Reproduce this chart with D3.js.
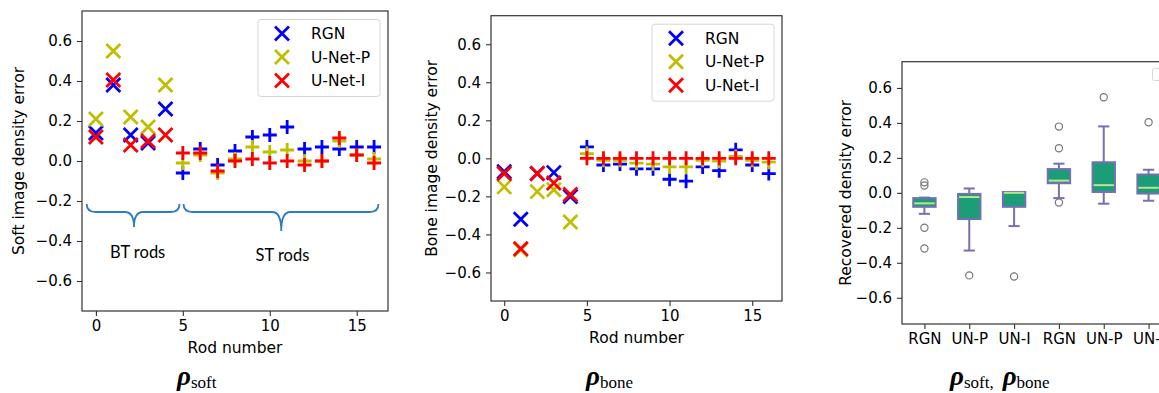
<!DOCTYPE html>
<html>
<head>
<meta charset="utf-8">
<script src="https://cdn.jsdelivr.net/npm/d3@7"></script>
<style>
  body { margin: 0; background: #fff; }
  svg { display: block; }
  .tick text { font-family: "DejaVu Sans", sans-serif; font-size: 15px; fill: #000; }
  .tick line { stroke: #333; stroke-width: 1.1; }
  .lbl { font-family: "DejaVu Sans", sans-serif; font-size: 15.5px; fill: #000; }
  .title { font-family: "Liberation Serif", "Times New Roman", serif; fill: #000; }
</style>
</head>
<body>
<svg width="1159" height="393"></svg>
<script>
var svg = d3.select("svg");

// ---- data ----
var rods = [0, 1, 2, 3, 4, 5, 6, 7, 8, 9, 10, 11, 12, 13, 14, 15, 16];
var rodShapes = ["x", "x", "x", "x", "x", "+", "+", "+", "+", "+", "+", "+", "+", "+", "+", "+", "+"];
var seriesNames = ["RGN", "U-Net-P", "U-Net-I"];
var seriesColors = ["#0000ff", "#bfbf00", "#ff0000"];

var softRGN = [0.14, 0.38, 0.13, 0.09, 0.26, -0.06, 0.06, -0.02, 0.05, 0.12, 0.13, 0.17, 0.06, 0.07, 0.06, 0.07, 0.07];
var softUNP = [0.21, 0.55, 0.22, 0.17, 0.38, -0.01, 0.03, -0.06, 0.01, 0.07, 0.045, 0.055, 0.0, 0.0, 0.10, 0.03, 0.01];
var softUNI = [0.12, 0.405, 0.08, 0.10, 0.13, 0.04, 0.04, -0.05, 0.0, 0.01, -0.01, 0.0, -0.02, 0.0, 0.115, 0.03, -0.01];

var boneRGN = [-0.07, -0.32, -0.08, -0.075, -0.20, 0.06, -0.035, -0.03, -0.055, -0.055, -0.11, -0.12, -0.045, -0.065, 0.045, -0.035, -0.08];
var boneUNP = [-0.15, -0.48, -0.175, -0.165, -0.335, 0.025, -0.01, -0.01, -0.025, -0.03, -0.045, -0.045, -0.01, -0.015, 0.01, -0.01, -0.02];
var boneUNI = [-0.08, -0.475, -0.08, -0.13, -0.19, 0.0, 0.0, 0.0, 0.0, 0.0, 0.0, 0.0, 0.0, 0.0, 0.0, 0.0, 0.0];

var yTicks = [-0.6, -0.4, -0.2, 0.0, 0.2, 0.4, 0.6];
var xTicks = [0, 5, 10, 15];

var braces = [
  {label: "BT rods", x0: -0.53, x1: 4.81, tip: 2.19, labelX: 2.4, top: -0.215, mid: -0.255, end: -0.33, labelY: -0.485},
  {label: "ST rods", x0: 5.04, x1: 16.25, tip: 10.66, labelX: 10.73, top: -0.215, mid: -0.255, end: -0.35, labelY: -0.5}
];

var boxLabels = ["RGN", "UN-P", "UN-I", "RGN", "UN-P", "UN-I"];
var boxLo = [-0.12, -0.33, -0.19, -0.03, -0.062, -0.045];
var boxQ1 = [-0.08, -0.15, -0.08, 0.055, 0.005, -0.004];
var boxMed = [-0.06, -0.024, 0.0, 0.07, 0.044, 0.029];
var boxQ3 = [-0.03, -0.006, 0.005, 0.136, 0.175, 0.105];
var boxHi = [-0.027, 0.025, 0.005, 0.167, 0.38, 0.132];
var boxOut = [[0.06, 0.042, -0.2, -0.318], [-0.472], [-0.478], [0.379, 0.255, -0.055], [0.547], [0.404]];

var fmt = d3.format(".1f");

function markerPath(shape, s) {
  if (shape === "x") return "M" + (-s) + "," + (-s) + "L" + s + "," + s + "M" + (-s) + "," + s + "L" + s + "," + (-s);
  return "M" + (-s) + ",0L" + s + ",0M0," + (-s) + "L0," + s;
}

function frame(g, x, y) {
  g.append("rect")
    .attr("x", x.range()[0]).attr("y", y.range()[1])
    .attr("width", x.range()[1] - x.range()[0])
    .attr("height", y.range()[0] - y.range()[1])
    .attr("fill", "none").attr("stroke", "#333").attr("stroke-width", 1.2);
}

function yAxis(g, x, y) {
  g.append("g")
    .attr("transform", "translate(" + x.range()[0] + ",0)")
    .call(d3.axisLeft(y).tickValues(yTicks).tickFormat(fmt).tickSize(5).tickPadding(5))
    .call(function(a) { a.select(".domain").remove(); });
}

function legend(g, x, y) {
  var w = 122, h = 77;
  var bx = x.range()[1] - 8 - w, by = y.range()[1] + 8.5;
  var lg = g.append("g").attr("transform", "translate(" + bx + "," + by + ")");
  lg.append("rect")
    .attr("width", w).attr("height", h).attr("rx", 3)
    .attr("fill", "#fff").attr("fill-opacity", 0.8)
    .attr("stroke", "#d6d6d6").attr("stroke-width", 1);
  seriesNames.forEach(function(name, i) {
    var cy = 14 + i * 23.5;
    lg.append("path")
      .attr("d", markerPath("x", 7))
      .attr("transform", "translate(24," + cy + ")")
      .attr("stroke", seriesColors[i]).attr("stroke-width", 2.8).attr("fill", "none");
    lg.append("text")
      .attr("class", "lbl")
      .attr("x", 53).attr("y", cy + 5.5)
      .style("font-size", "15.5px")
      .text(name);
  });
}

function scatterPanel(opts) {
  var g = svg.append("g");
  var x = d3.scaleLinear().domain([-0.8, 16.8]).range(opts.xr);
  var y = d3.scaleLinear().domain([-0.75, 0.75]).range(opts.yr);

  g.append("g")
    .attr("transform", "translate(0," + y.range()[0] + ")")
    .call(d3.axisBottom(x).tickValues(xTicks).tickSize(5).tickPadding(4))
    .call(function(a) { a.select(".domain").remove(); });
  yAxis(g, x, y);

  opts.series.forEach(function(vals, si) {
    g.append("g").selectAll("path")
      .data(rods)
      .enter().append("path")
        .attr("d", function(d) { return markerPath(rodShapes[d], 7); })
        .attr("transform", function(d) { return "translate(" + x(d) + "," + y(vals[d]) + ")"; })
        .attr("stroke", seriesColors[si])
        .attr("stroke-width", 2.8)
        .attr("fill", "none");
  });

  if (opts.braces) {
    opts.braces.forEach(function(b) {
      var x0 = x(b.x0), x1 = x(b.x1), xt = x(b.tip);
      var yt = y(b.top), ym = y(b.mid), ye = y(b.end), r = 9;
      var p = "M" + x0 + "," + yt +
        "Q" + x0 + "," + ym + " " + (x0 + r) + "," + ym +
        "L" + (xt - r) + "," + ym +
        "Q" + xt + "," + ym + " " + xt + "," + ye +
        "Q" + xt + "," + ym + " " + (xt + r) + "," + ym +
        "L" + (x1 - r) + "," + ym +
        "Q" + x1 + "," + ym + " " + x1 + "," + yt;
      g.append("path").attr("d", p)
        .attr("fill", "none").attr("stroke", "#2e7bc4").attr("stroke-width", 1.8);
      g.append("text")
        .attr("x", x(b.labelX)).attr("y", y(b.labelY))
        .attr("text-anchor", "middle")
        .style("font-family", "Lato, 'Open Sans', sans-serif")
        .style("font-size", "16.5px")
        .text(b.label);
    });
  }

  frame(g, x, y);
  legend(g, x, y);

  g.append("text").attr("class", "lbl")
    .attr("x", (x.range()[0] + x.range()[1]) / 2).attr("y", opts.xlabelY)
    .attr("text-anchor", "middle").text("Rod number");
  g.append("text").attr("class", "lbl")
    .attr("transform", "translate(" + opts.ylabelX + "," + (y.range()[0] + y.range()[1]) / 2 + ")rotate(-90)")
    .attr("text-anchor", "middle").text(opts.ylabel);
}

scatterPanel({
  xr: [82, 388], yr: [311, 11],
  series: [softRGN, softUNP, softUNI],
  braces: braces,
  ylabel: "Soft image density error", ylabelX: 24, xlabelY: 353
});

scatterPanel({
  xr: [491, 782], yr: [301, 15.7],
  series: [boneRGN, boneUNP, boneUNI],
  ylabel: "Bone image density error", ylabelX: 437, xlabelY: 343
});

// ---- box plot panel ----
(function() {
  var g = svg.append("g");
  var x = d3.scaleLinear().domain([0.5, 6.5]).range([902, 1171]);
  var y = d3.scaleLinear().domain([-0.75, 0.75]).range([324, 61.7]);
  var pos = [1, 2, 3, 4, 5, 6];

  g.append("g")
    .attr("transform", "translate(0," + y.range()[0] + ")")
    .call(d3.axisBottom(x).tickValues(pos).tickFormat(function(d) { return boxLabels[d - 1]; }).tickSize(5).tickPadding(4))
    .call(function(a) { a.select(".domain").remove(); });
  yAxis(g, x, y);

  var boxes = g.selectAll(".box").data(pos).enter().append("g").attr("class", "box");
  var hw = (x(1.25) - x(1)), cw = (x(1.125) - x(1));
  var purple = "#7570b3";

  boxes.append("line")
    .attr("x1", function(d) { return x(d); }).attr("x2", function(d) { return x(d); })
    .attr("y1", function(d) { return y(boxQ1[d - 1]); }).attr("y2", function(d) { return y(boxLo[d - 1]); })
    .attr("stroke", purple).attr("stroke-width", 2);
  boxes.append("line")
    .attr("x1", function(d) { return x(d); }).attr("x2", function(d) { return x(d); })
    .attr("y1", function(d) { return y(boxQ3[d - 1]); }).attr("y2", function(d) { return y(boxHi[d - 1]); })
    .attr("stroke", purple).attr("stroke-width", 2);
  boxes.append("line")
    .attr("x1", function(d) { return x(d) - cw; }).attr("x2", function(d) { return x(d) + cw; })
    .attr("y1", function(d) { return y(boxLo[d - 1]); }).attr("y2", function(d) { return y(boxLo[d - 1]); })
    .attr("stroke", purple).attr("stroke-width", 2);
  boxes.append("line")
    .attr("x1", function(d) { return x(d) - cw; }).attr("x2", function(d) { return x(d) + cw; })
    .attr("y1", function(d) { return y(boxHi[d - 1]); }).attr("y2", function(d) { return y(boxHi[d - 1]); })
    .attr("stroke", purple).attr("stroke-width", 2);
  boxes.append("rect")
    .attr("x", function(d) { return x(d) - hw; })
    .attr("width", 2 * hw)
    .attr("y", function(d) { return y(boxQ3[d - 1]); })
    .attr("height", function(d) { return y(boxQ1[d - 1]) - y(boxQ3[d - 1]); })
    .attr("fill", "#1b9e77").attr("stroke", purple).attr("stroke-width", 2);
  boxes.append("line")
    .attr("x1", function(d) { return x(d) - hw + 1; }).attr("x2", function(d) { return x(d) + hw - 1; })
    .attr("y1", function(d) { return y(boxMed[d - 1]); }).attr("y2", function(d) { return y(boxMed[d - 1]); })
    .attr("stroke", "#b8e68a").attr("stroke-width", 2);
  boxes.selectAll("circle")
    .data(function(d) { return boxOut[d - 1].map(function(v) { return {p: d, v: v}; }); })
    .enter().append("circle")
      .attr("cx", function(d) { return x(d.p); })
      .attr("cy", function(d) { return y(d.v); })
      .attr("r", 3.6)
      .attr("fill", "none").attr("stroke", "#777").attr("stroke-width", 1.2);

  frame(g, x, y);

  // empty legend box in the corner
  g.append("rect")
    .attr("x", 1152.5).attr("y", 68.5).attr("width", 30).attr("height", 12).attr("rx", 2)
    .attr("fill", "#fff").attr("stroke", "#d6d6d6");

  g.append("text").attr("class", "lbl")
    .attr("transform", "translate(851," + (y.range()[0] + y.range()[1]) / 2 + ")rotate(-90)")
    .attr("text-anchor", "middle").text("Recovered density error");
})();

// ---- panel titles ----
function rhoTitle(x0, parts) {
  var t = svg.append("text").attr("class", "title").attr("x", x0).attr("y", 385);
  parts.forEach(function(p) {
    if (p.rho) {
      t.append("tspan").attr("dy", p.dy || 0).attr("dx", p.dx || 0)
        .style("font-weight", "bold").style("font-style", "italic").style("font-size", "27px")
        .text("\u03c1");
    } else {
      t.append("tspan").attr("dy", p.dy || 0).style("font-size", "17px").text(p.text);
    }
  });
}
rhoTitle(177, [{rho: true}, {text: "soft", dy: 3}]);
rhoTitle(586, [{rho: true}, {text: "bone", dy: 3}]);
rhoTitle(950, [{rho: true}, {text: "soft", dy: 3}, {text: ","}, {rho: true, dy: -3, dx: 9}, {text: "bone", dy: 3}]);
</script>
</body>
</html>
